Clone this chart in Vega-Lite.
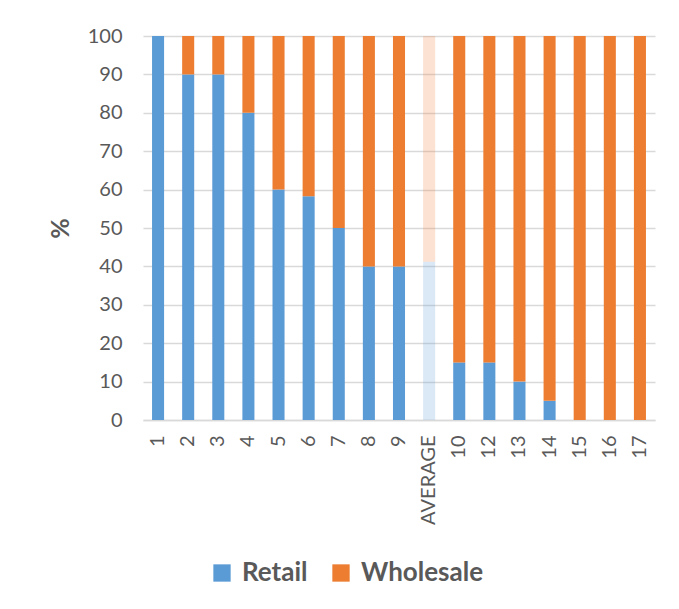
{
  "$schema": "https://vega.github.io/schema/vega-lite/v6.json",
  "autosize": {"type": "none"},
  "width": 512,
  "height": 384,
  "padding": {"left": 143, "top": 36, "right": 24, "bottom": 189},
  "background": "white",
  "data": {
    "values": [
      {"group": "1", "channel": "Retail", "pct": 100, "kind": "case"},
      {"group": "1", "channel": "Wholesale", "pct": 0, "kind": "case"},
      {"group": "2", "channel": "Retail", "pct": 90, "kind": "case"},
      {"group": "2", "channel": "Wholesale", "pct": 10, "kind": "case"},
      {"group": "3", "channel": "Retail", "pct": 90, "kind": "case"},
      {"group": "3", "channel": "Wholesale", "pct": 10, "kind": "case"},
      {"group": "4", "channel": "Retail", "pct": 80, "kind": "case"},
      {"group": "4", "channel": "Wholesale", "pct": 20, "kind": "case"},
      {"group": "5", "channel": "Retail", "pct": 60, "kind": "case"},
      {"group": "5", "channel": "Wholesale", "pct": 40, "kind": "case"},
      {"group": "6", "channel": "Retail", "pct": 58.3, "kind": "case"},
      {"group": "6", "channel": "Wholesale", "pct": 41.7, "kind": "case"},
      {"group": "7", "channel": "Retail", "pct": 50, "kind": "case"},
      {"group": "7", "channel": "Wholesale", "pct": 50, "kind": "case"},
      {"group": "8", "channel": "Retail", "pct": 40, "kind": "case"},
      {"group": "8", "channel": "Wholesale", "pct": 60, "kind": "case"},
      {"group": "9", "channel": "Retail", "pct": 40, "kind": "case"},
      {"group": "9", "channel": "Wholesale", "pct": 60, "kind": "case"},
      {"group": "AVERAGE", "channel": "Retail", "pct": 41.2, "kind": "average"},
      {"group": "AVERAGE", "channel": "Wholesale", "pct": 58.8, "kind": "average"},
      {"group": "10", "channel": "Retail", "pct": 15, "kind": "case"},
      {"group": "10", "channel": "Wholesale", "pct": 85, "kind": "case"},
      {"group": "12", "channel": "Retail", "pct": 15, "kind": "case"},
      {"group": "12", "channel": "Wholesale", "pct": 85, "kind": "case"},
      {"group": "13", "channel": "Retail", "pct": 10, "kind": "case"},
      {"group": "13", "channel": "Wholesale", "pct": 90, "kind": "case"},
      {"group": "14", "channel": "Retail", "pct": 5, "kind": "case"},
      {"group": "14", "channel": "Wholesale", "pct": 95, "kind": "case"},
      {"group": "15", "channel": "Retail", "pct": 0, "kind": "case"},
      {"group": "15", "channel": "Wholesale", "pct": 100, "kind": "case"},
      {"group": "16", "channel": "Retail", "pct": 0, "kind": "case"},
      {"group": "16", "channel": "Wholesale", "pct": 100, "kind": "case"},
      {"group": "17", "channel": "Retail", "pct": 0, "kind": "case"},
      {"group": "17", "channel": "Wholesale", "pct": 100, "kind": "case"}
    ]
  },
  "mark": {"type": "bar"},
  "encoding": {
    "x": {
      "field": "group",
      "type": "nominal",
      "sort": null,
      "scale": {"paddingInner": 0.6, "paddingOuter": 0.3},
      "axis": {
        "title": null,
        "labelAngle": 270,
        "labelAlign": "right",
        "labelBaseline": "middle",
        "labelPadding": 15,
        "labelFontSize": 20,
        "labelColor": "#595959",
        "labelFont": "Lato",
        "ticks": false,
        "domainColor": "#D9D9D9",
        "domainWidth": 1.5,
        "grid": false
      }
    },
    "y": {
      "field": "pct",
      "type": "quantitative",
      "stack": "zero",
      "scale": {"domain": [0, 100], "nice": false},
      "axis": {
        "title": "%",
        "titleFontSize": 25,
        "titleFontWeight": "bold",
        "titleColor": "#595959",
        "titleFont": "Lato",
        "titlePadding": 14,
        "values": [0, 10, 20, 30, 40, 50, 60, 70, 80, 90, 100],
        "labelFontSize": 20,
        "labelColor": "#595959",
        "labelFont": "Lato",
        "labelPadding": 21,
        "ticks": false,
        "domain": false,
        "gridColor": "#D9D9D9",
        "gridWidth": 1.3
      }
    },
    "color": {
      "field": "channel",
      "type": "nominal",
      "scale": {"domain": ["Retail", "Wholesale"], "range": ["#5B9BD5", "#ED7D31"]},
      "legend": {
        "title": null,
        "orient": "none",
        "direction": "horizontal",
        "legendX": 66,
        "legendY": 524,
        "symbolType": "square",
        "symbolSize": 300,
        "symbolStrokeWidth": 0,
        "labelFontSize": 26,
        "labelFontWeight": "bold",
        "labelColor": "#595959",
        "labelFont": "Lato",
        "columnPadding": 20,
        "labelOffset": 7
      }
    },
    "opacity": {
      "field": "kind",
      "type": "nominal",
      "scale": {"domain": ["case", "average"], "range": [1, 0.22]},
      "legend": null
    },
    "order": {"field": "channel", "sort": "ascending"}
  },
  "config": {
    "view": {"stroke": null}
  }
}
